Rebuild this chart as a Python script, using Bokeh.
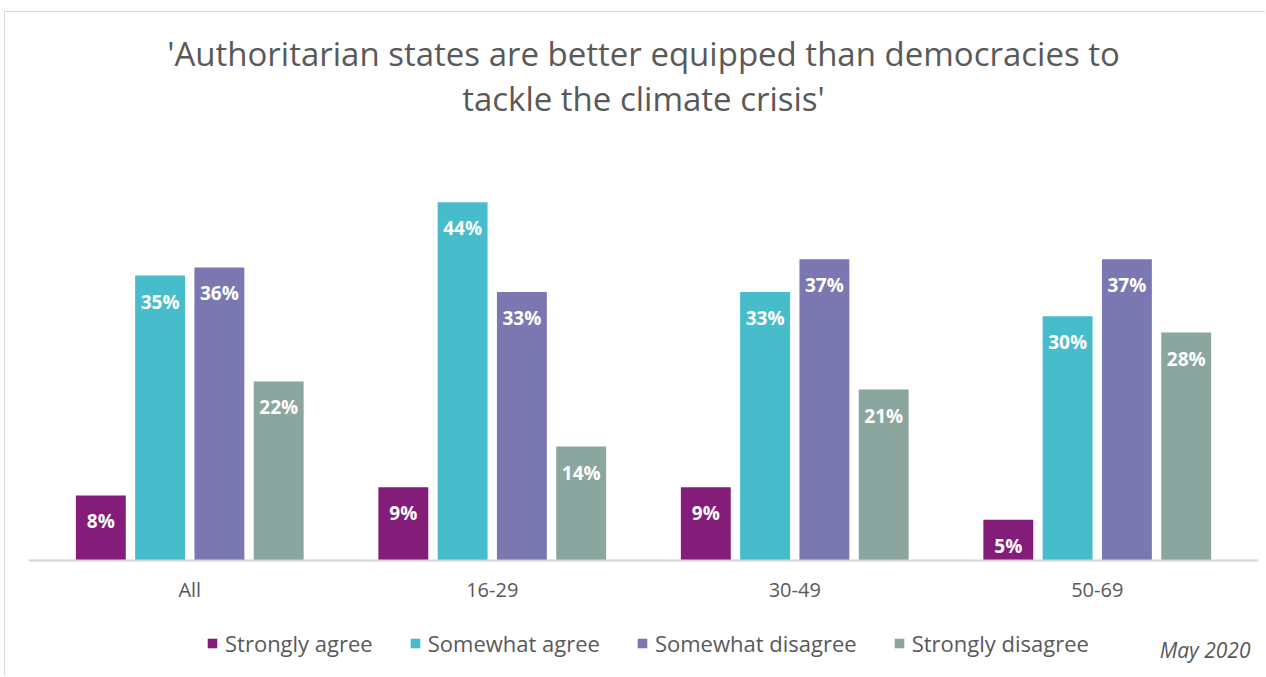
from bokeh.plotting import figure
from bokeh.models import ColumnDataSource, Legend, LegendItem, Range1d, FactorRange, Span
from bokeh.transform import dodge
from bokeh.core.properties import value
from bokeh.embed import file_html
from bokeh.resources import INLINE

categories = ["All", "16-29", "30-49", "50-69"]
series_names = ["Strongly agree", "Somewhat agree", "Somewhat disagree", "Strongly disagree"]
strongly_agree = [8, 9, 9, 5]
somewhat_agree = [35, 44, 33, 30]
somewhat_disagree = [36, 33, 37, 37]
strongly_disagree = [22, 14, 21, 28]
colors = ["#841D79", "#47BDCB", "#7B78B1", "#8AA69F"]
title_lines = ["'Authoritarian states are better equipped than democracies to",
               "tackle the climate crisis'"]
date_note = "May 2020"

FONT = "Open Sans"
TXT = "#595959"

W, H = 1261, 665
PX_PER_UNIT = 8.14          # pixels per percentage point
BASE = 548                  # canvas y of the baseline
y_start = -(H - BASE) / PX_PER_UNIT
y_end = BASE / PX_PER_UNIT

source = ColumnDataSource(dict(
    cat=categories,
    sa=strongly_agree, swa=somewhat_agree, swd=somewhat_disagree, sd=strongly_disagree,
    sa_l=[f"{v}%" for v in strongly_agree],
    swa_l=[f"{v}%" for v in somewhat_agree],
    swd_l=[f"{v}%" for v in somewhat_disagree],
    sd_l=[f"{v}%" for v in strongly_disagree],
    zero=[0] * len(categories),
))

p = figure(width=W, height=H,
           x_range=FactorRange(*categories, range_padding=0.01653),
           y_range=Range1d(y_start, y_end), output_backend="svg", toolbar_location=None,
           min_border_left=23, min_border_right=8, min_border_bottom=0, min_border_top=0)
p.styles = {"border-left": "1px solid #D9D9D9", "border-top": "1px solid #D9D9D9",
            "margin-left": "4px", "margin-top": "11px"}
p.xaxis.visible = False
p.yaxis.visible = False
p.xgrid.visible = False
p.ygrid.visible = False
p.outline_line_color = None

# title (two centred lines)
p.text(x=[2.0, 2.0], y=[y_end, y_end], text=title_lines, y_offset=[41, 86],
       text_align="center", text_baseline="middle", text_font=value(FONT),
       text_font_size="33px", text_color=TXT)

fields = ["sa", "swa", "swd", "sd"]
offsets = [-0.294, -0.098, 0.098, 0.294]
items = []
for f, off, col, name in zip(fields, offsets, colors, series_names):
    r = p.vbar(x=dodge("cat", off, range=p.x_range), top=f, bottom=0, width=0.165,
               source=source, fill_color=col, line_color=None)
    p.text(x=dodge("cat", off, range=p.x_range), y=f, text=f + "_l", source=source,
           text_align="center", text_baseline="middle", y_offset=26,
           text_color="white", text_font=value(FONT), text_font_size="19px",
           text_font_style="bold")
    items.append(LegendItem(label=name, renderers=[r]))

# baseline
p.add_layout(Span(location=0, dimension="width", line_color="#D4D4D4", line_width=2))

# category labels
p.text(x="cat", y="zero", text="cat", source=source, y_offset=29,
       text_align="center", text_baseline="middle", text_font=value(FONT),
       text_font_size="20px", text_color=TXT)

# date note
p.text(x=[4.0], y=[y_start], text=[date_note], x_offset=2, y_offset=-28,
       text_align="right", text_baseline="middle", text_font=value(FONT),
       text_font_size="21px", text_font_style="italic", text_color=TXT)

legend = Legend(items=items, orientation="horizontal", location=(178, 19),
                glyph_width=12, glyph_height=12, label_standoff=7, spacing=36,
                label_text_font=FONT, label_text_font_size="22px", label_text_color=TXT,
                border_line_color=None, background_fill_alpha=0, padding=0, margin=0)
p.add_layout(legend, "center")

open("out.html", "w").write(file_html(p, INLINE))
